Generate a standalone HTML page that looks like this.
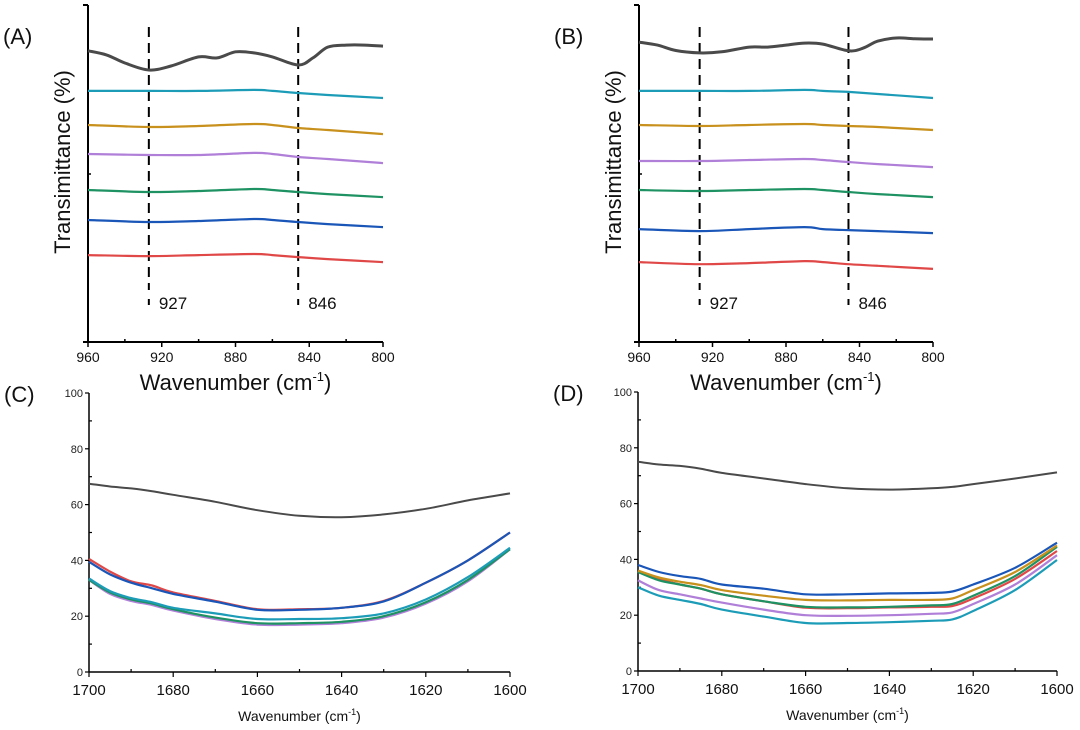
<!DOCTYPE html>
<html><head><meta charset="utf-8"><style>
body{margin:0;background:#fff;}
svg{display:block;font-family:"Liberation Sans","Noto Sans CJK SC",sans-serif;}
</style></head><body>
<svg id="chart" width="1080" height="730" viewBox="0 0 1080 730"></svg>
<script>
// ---- Panel A / B data (offset transmittance, arbitrary units 0..100) ----
const abXBlack = [960,950,940,927,915,900,890,880,870,860,846,838,830,820,810,800];
const abX = [960,927,900,870,860,846,830,800];
const aBlack = [86.4,85.2,82.8,80.7,81.9,84.6,84.3,86.1,85.8,84.6,82.2,84.3,87.5,88.1,88.1,87.8];
const aCyan = [74.5,74.5,74.5,74.8,74.5,73.9,73.3,72.4];
const aGold = [64.4,63.8,64.1,64.7,64.4,63.5,62.9,61.7];
const aPurple = [55.8,55.5,55.5,56.1,55.8,54.9,54.3,53.1];
const aGreen = [45.1,44.5,44.8,45.4,45.1,44.5,43.9,43.0];
const aBlue = [36.2,35.6,35.9,36.5,36.2,35.6,35.0,34.1];
const aRed = [25.8,25.5,25.8,26.1,25.8,25.2,24.6,23.7];
const bBlack = [89.0,88.1,86.5,85.8,86.1,87.5,87.5,88.1,88.7,88.4,86.4,87.2,89.3,90.2,90.0,89.9];
const bCyan = [74.5,74.5,74.5,74.8,74.5,74.2,73.6,72.4];
const bGold = [64.4,64.1,64.4,64.7,64.4,64.1,63.8,62.9];
const bPurple = [53.7,53.7,54.0,54.3,54.0,53.4,52.8,51.9];
const bGreen = [45.1,44.8,45.1,45.4,45.1,44.5,43.9,43.0];
const bBlue = [33.5,32.9,33.5,34.1,33.5,33.2,32.9,32.3];
const bRed = [23.7,23.1,23.4,24.0,23.7,23.1,22.6,21.7];
const abTicks = [960,920,880,840,800];
const abMarks = [927,846];
// ---- Panel C data ----
const cX = [1700,1695,1690,1685,1680,1670,1660,1650,1640,1630,1620,1610,1600];
const cBlack = [67.5,66.5,65.8,64.8,63.5,61,58,56,55.5,56.5,58.5,61.5,64];
const cRed = [40.5,36,32.5,31,28.5,25.5,22.5,22.5,23,25.5,32,40,50];
const cBlue = [39.5,35,32,30,28,25.2,22.3,22.3,23,25.3,32,40,50];
const cCyan = [33.5,29,26.5,25,23,21,19,19,19.3,21,26,34,44.5];
const cGreen = [33,28.5,26,24.5,22.5,19.5,17.5,17.5,18,20,25,33,44];
const cPurple = [33,28,25.5,24,22,19,17,17,17.5,19.5,24.5,32.5,44];
// ---- Panel D data ----
const dX = [1700,1695,1690,1685,1680,1670,1660,1650,1640,1630,1625,1620,1610,1600];
const dBlack = [75,74,73.5,72.5,71,69,67,65.5,65,65.5,66,67,69,71.2];
const dBlue = [38,35.5,34,33,31,29.5,27.5,27.5,27.8,28,28.5,31,37,46];
const dGold = [36,33.5,32,30.8,29,27,25.5,25.3,25.5,25.5,26,29,35.5,45];
const dGreen = [35.5,32.5,31,29.5,27.5,25,23,22.8,23,23.5,24,27,34,44.5];
const dRed = [35.5,33,31,29.5,27.5,25,22.7,22.5,22.8,23,23.3,26,33,43];
const dPurple = [32.5,29,27.5,26,24.5,22,20,19.8,20,20.5,21,24,31,41.5];
const dCyan = [30,27,25.5,24,22,19.5,17.2,17.2,17.5,18,18.5,21.5,29,39.8];
const cdXTicks = [1700,1680,1660,1640,1620,1600];
const cdYTicks = [0,20,40,60,80,100];

const COL = {black:'#4a4a4a',cyan:'#1d9cb8',gold:'#c8901c',purple:'#b07fd8',green:'#1e9262',blue:'#1a56b8',red:'#e04848'};
const svg = document.getElementById('chart');
const NS = 'http://www.w3.org/2000/svg';
function mk(tag, attrs, parent){const e=document.createElementNS(NS,tag);for(const k in attrs)e.setAttribute(k,attrs[k]);(parent||svg).appendChild(e);return e;}
function txt(s, attrs, parent){const e=mk('text',attrs,parent);e.textContent=s;return e;}
function lin(d0,d1,r0,r1){return v=>r0+(v-d0)/(d1-d0)*(r1-r0);}
function smooth(pts){let d='M'+pts[0][0].toFixed(1)+','+pts[0][1].toFixed(1);
  for(let i=0;i<pts.length-1;i++){const p0=pts[i-1]||pts[i],p1=pts[i],p2=pts[i+1],p3=pts[i+2]||p2;
    const c1=[p1[0]+(p2[0]-p0[0])/6,p1[1]+(p2[1]-p0[1])/6],c2=[p2[0]-(p3[0]-p1[0])/6,p2[1]-(p3[1]-p1[1])/6];
    d+=' C'+c1[0].toFixed(1)+','+c1[1].toFixed(1)+' '+c2[0].toFixed(1)+','+c2[1].toFixed(1)+' '+p2[0].toFixed(1)+','+p2[1].toFixed(1);}
  return d;}
function series(g,xs,ys,sx,sy,color,w,name){
  const p=mk('path',{d:smooth(xs.map((x,i)=>[sx(x),sy(ys[i])])),fill:'none',stroke:color,'stroke-width':w,'stroke-linejoin':'round'},g);
  
  
}

function panelAB(id,label,x0,x1,blk,rest){
  const g=mk('g',{});
  
  
  const sx=lin(960,800,x0,x1), sy=lin(0,100,342,5);
  const pl=txt('('+label+')',{x:x0-85,y:44,'font-size':22,fill:'#111'},g);
  
  
  mk('line',{x1:x0,y1:5,x2:x0,y2:342,stroke:'#000','stroke-width':2},g);
  mk('line',{x1:x0,y1:342,x2:x1,y2:342,stroke:'#000','stroke-width':2},g);
  mk('line',{x1:x0-5,y1:5,x2:x0,y2:5,stroke:'#000','stroke-width':2},g);
  mk('line',{x1:x0,y1:174,x2:x0+3,y2:174,stroke:'#000','stroke-width':1.5},g);
  mk('line',{x1:x0-5,y1:342,x2:x0,y2:342,stroke:'#000','stroke-width':2},g);
  for(let v=960;v>=800;v-=20){const major=abTicks.includes(v);
    mk('line',{x1:sx(v),y1:342,x2:sx(v),y2:major?347:339,stroke:'#000','stroke-width':1.5},g);}
  abTicks.forEach(v=>{const t=txt(v,{x:sx(v),y:362,'font-size':14,'text-anchor':'middle',fill:'#111'},g);
    
    });
  const xt=txt('',{x:(x0+x1)/2,y:390,'font-size':22,'text-anchor':'middle',fill:'#111'},g);
  xt.innerHTML='Wavenumber (cm<tspan dy="-9" font-size="13">-1</tspan><tspan dy="9">)</tspan>';
  
  
  const yt=txt('Transimittance (%)',{x:0,y:0,'font-size':22,'text-anchor':'middle',fill:'#111',transform:'translate('+(x0-18)+',162) rotate(-90)'},g);
  
  
  abMarks.forEach(m=>{
    const dl=mk('line',{x1:sx(m),y1:27,x2:sx(m),y2:290,stroke:'#000','stroke-width':2,'stroke-dasharray':'10,6'},g);
    
    
    mk('line',{x1:sx(m),y1:299,x2:sx(m),y2:305,stroke:'#000','stroke-width':2},g);
    const t=txt(m,{x:sx(m)+10,y:309,'font-size':17,fill:'#111'},g);
    
    
  });
  series(g,abXBlack,blk,sx,sy,COL.black,3,'series-control');
  const names=['cyan','gold','purple','green','blue','red'];
  rest.forEach((ys,i)=>series(g,abX,ys,sx,sy,COL[names[i]],2.2,'series-'+names[i]));
}
panelAB('a','A',88,383,aBlack,[aCyan,aGold,aPurple,aGreen,aBlue,aRed]);
panelAB('b','B',639,933,bBlack,[bCyan,bGold,bPurple,bGreen,bBlue,bRed]);

function panelCD(id,label,x0,x1,y0,y1,xs,list){
  const g=mk('g',{});
  
  
  const sx=lin(1700,1600,x0,x1), sy=lin(0,100,y0,y1);
  const pl=txt('('+label+')',{x:x0-85,y:y1+9,'font-size':22,fill:'#111'},g);
  
  
  mk('line',{x1:x0,y1:y1,x2:x0,y2:y0,stroke:'#000','stroke-width':1.5},g);
  mk('line',{x1:x0,y1:y0,x2:x1,y2:y0,stroke:'#000','stroke-width':1.5},g);
  for(let v=0;v<=100;v+=10){const major=v%20===0;
    mk('line',{x1:x0,y1:sy(v),x2:x0+(major?-4:3),y2:sy(v),stroke:'#000','stroke-width':1.2},g);}
  cdYTicks.forEach(v=>{const t=txt(v,{x:x0-6,y:sy(v)+4,'font-size':11,'text-anchor':'end',fill:'#222'},g);
    
    });
  for(let v=1700;v>=1600;v-=10){const major=v%20===0;
    mk('line',{x1:sx(v),y1:y0,x2:sx(v),y2:y0+(major?5:-3),stroke:'#000','stroke-width':1.2},g);}
  cdXTicks.forEach(v=>{const t=txt(v,{x:sx(v),y:y0+23,'font-size':15,'text-anchor':'middle',fill:'#111'},g);
    
    });
  const xt=txt('',{x:(x0+x1)/2,y:y0+49,'font-size':14,'text-anchor':'middle',fill:'#111'},g);
  xt.innerHTML='Wavenumber (cm<tspan dy="-6" font-size="9">-1</tspan><tspan dy="6">)</tspan>';
  
  
  list.forEach(s=>series(g,xs,s[0],sx,sy,COL[s[1]],s[1]==='black'?2:2.2,'series-'+s[1]));
}
panelCD('c','C',89,510,672,393,cX,[[cBlack,'black'],[cPurple,'purple'],[cGreen,'green'],[cCyan,'cyan'],[cRed,'red'],[cBlue,'blue']]);
panelCD('d','D',638,1057,671,392,dX,[[dBlack,'black'],[dCyan,'cyan'],[dPurple,'purple'],[dRed,'red'],[dGreen,'green'],[dGold,'gold'],[dBlue,'blue']]);
</script>
</body></html>
